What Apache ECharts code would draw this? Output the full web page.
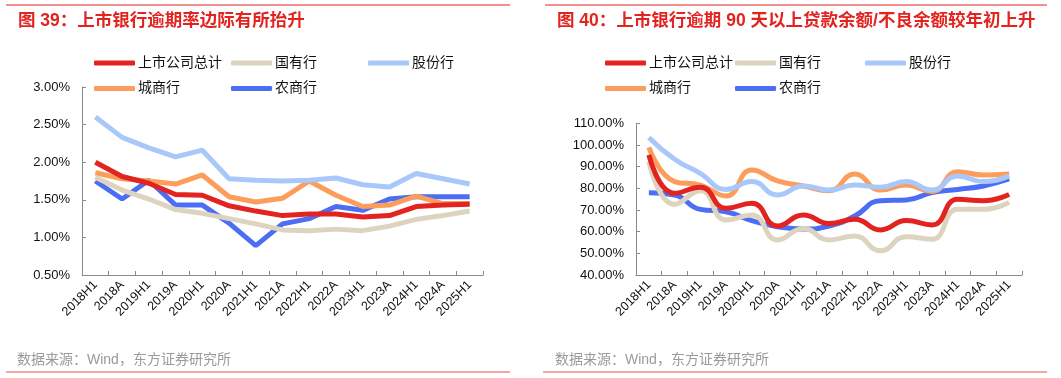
<!DOCTYPE html>
<html><head><meta charset="utf-8">
<script src="https://cdn.jsdelivr.net/npm/echarts@6/dist/echarts.min.js"></script>
<style>html,body{margin:0;padding:0;background:#fff}#c{width:1061px;height:378px}</style>
</head><body><div id="c"></div>
<script>
const categories = ['2018H1','2018A','2019H1','2019A','2020H1','2020A','2021H1','2021A','2022H1','2022A','2023H1','2023A','2024H1','2024A','2025H1'];
const seriesNames = ['上市公司总计','国有行','股份行','城商行','农商行'];
const leftTitle = '图 39：上市银行逾期率边际有所抬升';
const rightTitle = '图 40：上市银行逾期 90 天以上贷款余额/不良余额较年初上升';
const sourceText = '数据来源：Wind，东方证券研究所';

// Left chart: overdue ratio (%)
const overdueTotal = [2.00,1.81,1.72,1.57,1.56,1.42,1.35,1.29,1.31,1.31,1.27,1.29,1.41,1.43,1.44];
const overdueState = [1.80,1.63,1.51,1.37,1.32,1.25,1.18,1.10,1.09,1.11,1.09,1.15,1.24,1.29,1.35];
const overdueJoint = [2.60,2.33,2.19,2.07,2.16,1.78,1.76,1.75,1.76,1.79,1.70,1.67,1.85,1.78,1.71];
const overdueCity  = [1.86,1.78,1.75,1.71,1.83,1.54,1.47,1.52,1.75,1.56,1.41,1.43,1.55,1.45,1.45];
const overdueRural = [1.75,1.51,1.76,1.43,1.43,1.19,0.89,1.18,1.25,1.41,1.36,1.51,1.54,1.54,1.54];

// Right chart: overdue 90+ / NPL (%)
const ratioTotal = [95.4,77.7,80.5,70.8,73.1,62.6,67.7,63.8,65.7,60.8,65.1,63.1,74.9,74.3,77.2];
const ratioState = [92.3,72.6,78.9,65.4,67.7,56.2,61.5,56.2,58.0,51.2,57.7,56.5,70.3,70.3,73.5];
const ratioJoint = [103.5,93.4,86.9,79.5,83.1,76.9,81.1,79.2,81.5,80.5,83.1,79.2,85.7,83.1,85.7];
const ratioCity  = [98.9,83.1,81.5,76.5,88.5,83.4,81.1,78.9,86.6,79.2,81.5,78.5,87.7,86.1,86.6];
const ratioRural = [78.0,76.9,70.3,69.2,65.1,62.3,61.2,62.6,67.2,74.3,74.6,78.0,79.5,81.1,84.3];

const colors = ['#e3231f','#ddd4c0','#a9c8fa','#fc9d5b','#4c6ef5'];
const FONT = '"Liberation Sans","Noto Sans CJK SC",sans-serif';

const leftData = [overdueTotal, overdueState, overdueJoint, overdueCity, overdueRural];
const rightData = [ratioTotal, ratioState, ratioJoint, ratioCity, ratioRural];

const chart = echarts.init(document.getElementById('c'), null, {renderer:'canvas'});

const axisLineStyle = {lineStyle:{color:'#8a8a8a', width:1}};
function xAxis(gi){
  return {type:'category', gridIndex:gi, data:categories, boundaryGap:true,
    axisLine:axisLineStyle, axisTick:{show:true, inside:true, length:4, lineStyle:{color:'#8a8a8a'}},
    axisLabel:{interval:0, rotate:45, fontSize:12.5, color:'#111', fontFamily:FONT, margin:8},
    splitLine:{show:false}};
}
function yAxis(gi, min, max, interval){
  return {type:'value', gridIndex:gi, min, max, interval,
    axisLine:{show:true, lineStyle:{color:'#8a8a8a', width:1}},
    axisTick:{show:true, inside:true, length:4, lineStyle:{color:'#8a8a8a'}},
    axisLabel:{formatter:v=>v.toFixed(2)+'%', fontSize:13, color:'#111', fontFamily:FONT, margin:12},
    splitLine:{show:false}};
}

const series = [];
seriesNames.forEach((n,i)=>{
  series.push({name:n, type:'line', xAxisIndex:0, yAxisIndex:0, data:leftData[i], showSymbol:false, symbol:'none',
    lineStyle:{width:5, color:colors[i]}, itemStyle:{color:colors[i]}, z: 10-i});
});
seriesNames.forEach((n,i)=>{
  series.push({name:n, type:'line', xAxisIndex:1, yAxisIndex:1, data:rightData[i], showSymbol:false, symbol:'none', smooth:0.5,
    lineStyle:{width:5, color:colors[i]}, itemStyle:{color:colors[i]}, z: 10-i});
});

// legend positions (3 columns, 2 rows)
const legendCols = [0,1,2,0,1];
const legendRows = [0,0,0,1,1];
const legends = [];
[[94,137],[605,130]].forEach(([x0,dx])=>{
  seriesNames.forEach((n,i)=>{
    legends.push({data:[n], left:x0+legendCols[i]*dx, top:56+legendRows[i]*25.5, selectedMode:false,
      icon:'roundRect', itemWidth:41, itemHeight:5, itemGap:0, padding:0,
      textStyle:{fontSize:14, color:'#111', fontFamily:FONT, padding:[0,0,0,-2]}});
  });
});

const graphic = [
  {type:'line', shape:{x1:6,y1:5,x2:510,y2:5}, style:{stroke:'#e3231f', lineWidth:1.2}},
  {type:'line', shape:{x1:545,y1:5,x2:1047,y2:5}, style:{stroke:'#e3231f', lineWidth:1.2}},
  {type:'text', left:18, top:12, style:{text:leftTitle, fill:'#e3231f', font:'bold 17.5px '+FONT}},
  {type:'text', left:557, top:12, style:{text:rightTitle, fill:'#e3231f', font:'bold 17.5px '+FONT}},
  {type:'text', left:17, top:353, style:{text:sourceText, fill:'#9a9a9a', font:'14px '+FONT}},
  {type:'text', left:555, top:353, style:{text:sourceText, fill:'#9a9a9a', font:'14px '+FONT}},
  {type:'line', shape:{x1:6,y1:372,x2:510,y2:372}, style:{stroke:'#f08a80', lineWidth:1.5}},
  {type:'line', shape:{x1:543,y1:372,x2:1047,y2:372}, style:{stroke:'#f08a80', lineWidth:1.5}}
];

chart.setOption({
  animation:false,
  backgroundColor:'#fff',
  grid:[{left:82, top:87, width:401, height:188, containLabel:false},
        {left:636, top:123.3, width:386, height:151.7, containLabel:false}],
  xAxis:[xAxis(0), xAxis(1)],
  yAxis:[yAxis(0,0.5,3.0,0.5), yAxis(1,40,110,10)],
  legend:legends,
  series,
  graphic
});
</script></body></html>
